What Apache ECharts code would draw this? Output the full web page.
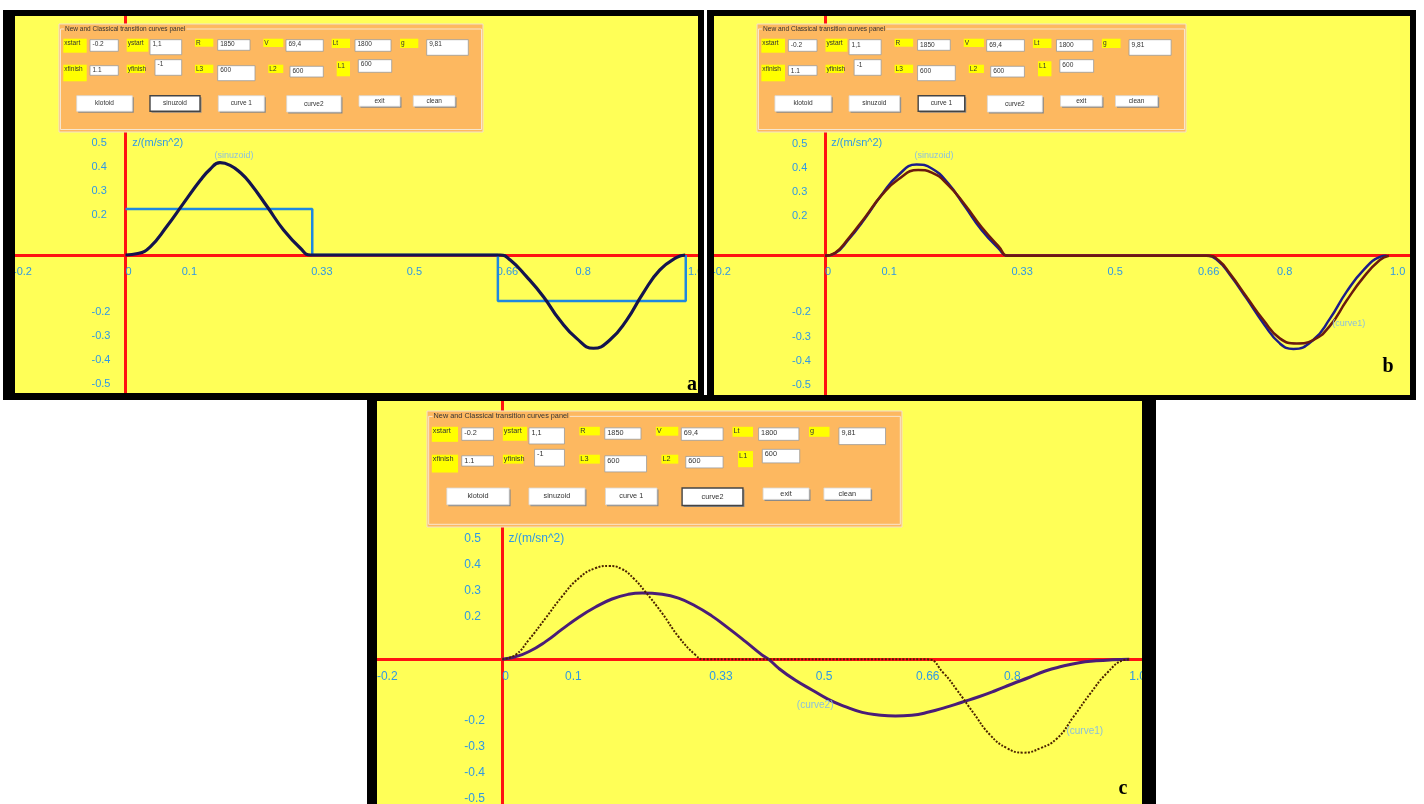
<!DOCTYPE html>
<html>
<head>
<meta charset="utf-8">
<title>transition curves</title>
<script src="https://cdn.jsdelivr.net/npm/echarts@6/dist/echarts.min.js"></script>
<style>
  html, body { margin: 0; padding: 0; background: #fff; }
  #chart { width: 1424px; height: 804px; }
</style>
</head>
<body>
<div id="chart"></div>
<script>
// tick labels shared by all three panels
const X_TICKS = [-0.2, 0, 0.1, 0.33, 0.5, 0.66, 0.8, 1.0];
const X_TICK_TEXT = ['-0.2', '0', '0.1', '0.33', '0.5', '0.66', '0.8', '1.0'];
const Y_TICKS = [0.5, 0.4, 0.3, 0.2, -0.2, -0.3, -0.4, -0.5];
const Y_TICK_TEXT = ['0.5', '0.4', '0.3', '0.2', '-0.2', '-0.3', '-0.4', '-0.5'];

// panel a : klotoid step + sinuzoid
const stepA = [[0, 0.191], [0.332, 0.191], [0.332, 0], [0.662, 0], [0.662, -0.191], [0.996, -0.191], [0.996, 0]];
const sinuzoidA = [
  [0, 0], [0.022, 0.006], [0.044, 0.034], [0.073, 0.117], [0.103, 0.214], [0.133, 0.31], [0.15, 0.355],
  [0.168, 0.383], [0.186, 0.372], [0.205, 0.34], [0.222, 0.297], [0.252, 0.2], [0.281, 0.104],
  [0.311, 0.028], [0.329, 0],
  [0.666, 0], [0.684, -0.021], [0.713, -0.09], [0.743, -0.173], [0.772, -0.27], [0.802, -0.346],
  [0.832, -0.387], [0.861, -0.353], [0.891, -0.27], [0.92, -0.159], [0.95, -0.062], [0.98, -0.01], [0.995, 0]
];

// panel b : sinuzoid + curve 1
const sinuzoidB = [
  [0, 0], [0.018, 0.01], [0.041, 0.065], [0.071, 0.155], [0.1, 0.252], [0.13, 0.335], [0.162, 0.378],
  [0.189, 0.362], [0.218, 0.3], [0.248, 0.203], [0.277, 0.107], [0.307, 0.031], [0.324, 0],
  [0.675, 0], [0.695, -0.02], [0.717, -0.08], [0.746, -0.177], [0.776, -0.281], [0.805, -0.364],
  [0.829, -0.387], [0.864, -0.35], [0.894, -0.26], [0.923, -0.15], [0.953, -0.06], [0.982, -0.005], [0.994, 0]
];
const curve1B = [
  [0, 0], [0.018, 0.012], [0.041, 0.07], [0.071, 0.16], [0.1, 0.25], [0.13, 0.317], [0.165, 0.356],
  [0.189, 0.345], [0.218, 0.293], [0.248, 0.21], [0.277, 0.119], [0.307, 0.04], [0.325, 0],
  [0.678, 0], [0.697, -0.02], [0.717, -0.075], [0.746, -0.17], [0.776, -0.267], [0.805, -0.343],
  [0.835, -0.364], [0.864, -0.35], [0.894, -0.29], [0.923, -0.187], [0.953, -0.09], [0.982, -0.018], [0.998, 0]
];

// panel c : curve 1 (dotted) + curve 2
const curve1C = [
  [0, 0], [0.021, 0.017], [0.042, 0.074], [0.069, 0.158], [0.095, 0.241], [0.122, 0.312], [0.148, 0.35],
  [0.17, 0.359], [0.19, 0.348], [0.21, 0.31], [0.228, 0.26], [0.255, 0.177], [0.281, 0.087], [0.308, 0.017], [0.321, 0],
  [0.677, 0], [0.704, -0.054], [0.725, -0.118], [0.752, -0.208], [0.778, -0.291], [0.805, -0.342],
  [0.831, -0.359], [0.858, -0.342], [0.885, -0.304], [0.911, -0.221], [0.938, -0.131], [0.964, -0.054],
  [0.991, -0.003], [1.0, 0]
];
const curve2C = [
  [0, 0], [0.021, 0.01], [0.042, 0.029], [0.069, 0.068], [0.095, 0.115], [0.122, 0.162], [0.148, 0.2],
  [0.175, 0.232], [0.201, 0.25], [0.223, 0.255], [0.255, 0.25], [0.281, 0.235], [0.308, 0.205],
  [0.334, 0.167], [0.361, 0.119], [0.388, 0.068], [0.414, 0.017], [0.425, 0], [0.441, -0.035],
  [0.467, -0.08], [0.494, -0.118], [0.52, -0.154], [0.547, -0.182], [0.574, -0.204], [0.6, -0.214],
  [0.627, -0.218], [0.653, -0.215], [0.68, -0.203], [0.707, -0.185], [0.733, -0.165], [0.76, -0.144],
  [0.786, -0.121], [0.813, -0.095], [0.84, -0.07], [0.866, -0.045], [0.893, -0.027], [0.92, -0.013],
  [0.947, -0.006], [0.973, -0.002], [1.0, 0]
];

// control panel widgets (text only, layout is below)
const PANEL_TITLE = 'New and Classical transition curves panel';
const FIELD_NAMES = ['xstart', 'ystart', 'R', 'V', 'Lt', 'g', 'xfinish', 'yfinish', 'L3', 'L2', 'L1'];
const FIELD_VALUES = ['-0.2', '1,1', '1850', '69,4', '1800', '9,81', '1.1', '-1', '600', '600', '600'];
const BUTTONS = ['klotoid', 'sinuzoid', 'curve 1', 'curve2', 'exit', 'clean'];

const YELLOW = '#FFFF57';
const ORANGE = '#FDB860';
const RED = '#FF1212';
const TICK_BLUE = '#2F98E6';
const NOTE_BLUE = '#8CC0DC';

// pixel geometry of each panel (x0,y0 = where the red axes cross)
const geo = [
  { x0: 125.5, y0: 255, sx: 562.5, sy: 241, right: 698, top: 16, bottom: 393, font: 11, ym: 34 },
  { x0: 825, y0: 255.7, sx: 565, sy: 241, right: 1410, top: 16, bottom: 395, font: 11, ym: 33 },
  { x0: 502.3, y0: 659.3, sx: 627, sy: 260, right: 1142, top: 401, bottom: 804, font: 12, ym: 38 }
];

const pick = (ticks, texts) => v => {
  const i = ticks.findIndex(t => Math.abs(t - v) < 1e-9);
  return i < 0 ? '' : texts[i];
};

const grids = [], xAxes = [], yAxes = [];
geo.forEach((g, i) => {
  const left = g.x0 - 0.2 * g.sx;
  grids.push({
    left: left, top: g.top, width: g.right - left, height: g.bottom - g.top,
    show: true, backgroundColor: YELLOW, borderWidth: 0, containLabel: false, outerBoundsMode: 'none'
  });
  // axes are moved onto the zero lines with a negative offset
  xAxes.push({
    type: 'value', gridIndex: i, position: 'bottom', offset: -(g.bottom - g.y0),
    min: -0.2, max: (g.right - g.x0) / g.sx,
    axisLine: { onZero: false, lineStyle: { color: RED, width: 3 } },
    axisTick: { show: false }, splitLine: { show: false },
    axisLabel: {
      customValues: X_TICKS, formatter: pick(X_TICKS, X_TICK_TEXT),
      align: 'left', margin: 11, color: TICK_BLUE, fontSize: g.font, fontFamily: 'Liberation Sans'
    }
  });
  yAxes.push({
    type: 'value', gridIndex: i, position: 'left', offset: -(g.x0 - left),
    min: (g.y0 - g.bottom) / g.sy, max: (g.y0 - g.top) / g.sy,
    axisLine: { onZero: false, lineStyle: { color: RED, width: 3 } },
    axisTick: { show: false }, splitLine: { show: false },
    axisLabel: {
      customValues: Y_TICKS, formatter: pick(Y_TICKS, Y_TICK_TEXT),
      align: 'left', verticalAlign: 'top', padding: [3, 0, 0, 0], margin: g.ym,
      color: TICK_BLUE, fontSize: g.font, fontFamily: 'Liberation Sans'
    }
  });
});

// small text notes placed in data coords
const note = (coord, text, size, color, align) => ({
  coord: coord,
  label: { formatter: text, fontSize: size, color: color, align: align || 'center' }
});
const notes = (items) => ({
  symbol: 'circle', symbolSize: 0, silent: true,
  label: { show: true, position: 'inside', verticalAlign: 'middle', fontFamily: 'Liberation Sans' },
  data: items
});

const line = (name, idx, data, color, width, extra) => Object.assign({
  name: name, type: 'line', xAxisIndex: idx, yAxisIndex: idx, data: data,
  showSymbol: false, smooth: 0.5,
  lineStyle: { color: color, width: width }, z: 3
}, extra || {});

const series = [
  line('klotoid', 0, stepA, '#1E88E0', 2.5, { smooth: false }),
  line('sinuzoid', 0, sinuzoidA, '#14144E', 3.2, {
    markPoint: notes([
      note([0.193, 0.414], '(sinuzoid)', 9, NOTE_BLUE),
      note([0.012, 0.466], 'z/(m/sn^2)', 11, TICK_BLUE, 'left')
    ])
  }),
  line('sinuzoid', 1, sinuzoidB, '#1C1C8A', 2.5, {
    markPoint: notes([
      note([0.193, 0.414], '(sinuzoid)', 9, NOTE_BLUE),
      note([0.927, -0.283], '(curve1)', 9, NOTE_BLUE),
      note([0.011, 0.469], 'z/(m/sn^2)', 11, TICK_BLUE, 'left')
    ])
  }),
  line('curve1', 1, curve1B, '#6A1A0E', 2.5),
  line('curve2', 2, curve2C, '#4A1C78', 3, {
    markPoint: notes([
      note([0.499, -0.178], '(curve2)', 10, NOTE_BLUE),
      note([0.929, -0.276], '(curve1)', 10, NOTE_BLUE),
      note([0.01, 0.463], 'z/(m/sn^2)', 12, TICK_BLUE, 'left')
    ])
  }),
  line('curve1', 2, curve1C, '#4A2200', 2, { lineStyle: { color: '#4A2200', width: 2, type: [2, 1.5] } })
];

// ---- graphic overlays: black frames, control panels, panel letters ----
const graphics = [];
const rect = (x, y, w, h, style, z) => graphics.push({ type: 'rect', shape: { x: x, y: y, width: w, height: h }, style: style, z: z || 100, silent: true });
const text = (x, y, s, style, z) => graphics.push({ type: 'text', style: Object.assign({ x: x, y: y, text: s }, style), z: z || 101, silent: true });

const frames = [
  { o: [3, 10, 704, 400], i: [15, 16, 698, 393] },
  { o: [707, 10, 1416, 400], i: [714, 16, 1410, 395] },
  { o: [367, 395, 1156, 804], i: [377, 401, 1142, 804] }
];
frames.forEach(f => {
  const [ox1, oy1, ox2, oy2] = f.o, [ix1, iy1, ix2, iy2] = f.i;
  const blk = { fill: '#000' };
  rect(ox1, oy1, ox2 - ox1, iy1 - oy1, blk);
  if (oy2 > iy2) rect(ox1, iy2, ox2 - ox1, oy2 - iy2, blk);
  rect(ox1, oy1, ix1 - ox1, oy2 - oy1, blk);
  rect(ix2, oy1, ox2 - ix2, oy2 - oy1, blk);
});

// layout of the control panel, in a 424 x 108 box
const labelBoxes = [
  [4.3, 14.7, 23.4, 14], [67.7, 14.7, 21.6, 13], [136, 14.7, 18.3, 8], [204.3, 14.7, 20, 8.3], [272.7, 14.7, 18.3, 9.3], [341, 14.7, 18.3, 9.3],
  [4.3, 40.7, 23.4, 16.6], [67.7, 40.7, 18.3, 8.3], [136, 40.7, 18.3, 8.3], [209.3, 40.7, 15, 8.3], [277.7, 37.3, 13.3, 15]
];
const inputBoxes = [
  [31, 15.7, 28.3, 11.6], [91, 15.7, 31.7, 15], [158.7, 15.7, 32.3, 10.6], [227, 15.7, 37.3, 11.6], [296, 15.7, 36, 11.6], [367.7, 15.7, 41.6, 15.6],
  [31, 41.7, 28.3, 9.6], [96, 35.7, 26.7, 15.6], [158.7, 41.7, 37.3, 15], [231, 42.3, 33.3, 10.7], [299.3, 35.7, 33.4, 12.6]
];
const buttonBoxes = [
  [17.7, 71.7, 55.6, 15.6], [91, 71.7, 50, 15.6], [159.3, 71.7, 46, 15.6], [227.7, 71.7, 54.3, 16.3], [300, 71.7, 41, 10.6], [354.3, 71.7, 41.7, 10.6]
];

function controlPanel(ox, oy, w, h, pressed) {
  const kx = w / 424, ky = h / 108;
  const fs = 6.5 * kx;
  const font = fs.toFixed(1) + 'px "Liberation Sans"';
  const B = b => [ox + b[0] * kx, oy + b[1] * ky, b[2] * kx, b[3] * ky];
  rect(ox, oy, w, h, { fill: ORANGE, stroke: '#F3E2CC', lineWidth: 1 });
  const gb = B([1.5, 5, 421, 100.5]);
  rect(gb[0], gb[1], gb[2], gb[3], { fill: 'none', stroke: '#F8E6CE', lineWidth: 1 });
  text(ox + 5 * kx, oy + 5 * ky, PANEL_TITLE, { font: font, fill: '#333', backgroundColor: ORANGE, padding: [0, 1],
    align: 'left', verticalAlign: 'middle', textAlign: 'left', textVerticalAlign: 'middle' });
  labelBoxes.forEach((b, i) => {
    const r = B(b);
    rect(r[0], r[1], r[2], r[3], { fill: '#FFFF00' });
    text(r[0] + 1, r[1] + 1, FIELD_NAMES[i], { font: font, fill: '#333', align: 'left', verticalAlign: 'top', textAlign: 'left', textVerticalAlign: 'top' });
  });
  inputBoxes.forEach((b, i) => {
    const r = B(b);
    rect(r[0], r[1], r[2], r[3], { fill: '#FFFFFF', stroke: '#9A9A9A', lineWidth: 0.8 });
    text(r[0] + 2.5, r[1] + 1.5, FIELD_VALUES[i], { font: font, fill: '#333', align: 'left', verticalAlign: 'top', textAlign: 'left', textVerticalAlign: 'top' });
  });
  buttonBoxes.forEach((b, i) => {
    const r = B(b);
    rect(r[0] + 1.5, r[1] + 1.5, r[2], r[3], { fill: '#8A8A8A' });
    const on = BUTTONS[i] === pressed;
    rect(r[0], r[1], r[2], r[3], { fill: '#FFFFFF', stroke: on ? '#444' : '#D8D8D8', lineWidth: on ? 1.4 : 0.8 });
    text(r[0] + r[2] / 2, r[1] + r[3] / 2, BUTTONS[i], { font: font, fill: '#333', align: 'center', verticalAlign: 'middle', textAlign: 'center', textVerticalAlign: 'middle' });
  });
}
controlPanel(59, 24, 424, 108, 'sinuzoid');
controlPanel(757, 24, 429, 108, 'curve 1');
controlPanel(427, 411, 475, 116, 'curve2');

const letter = { font: 'bold 20px "Liberation Serif"', fill: '#000', align: 'center', verticalAlign: 'middle', textAlign: 'center', textVerticalAlign: 'middle' };
text(692, 385, 'a', letter);
text(1388, 367, 'b', letter);
text(1123, 789, 'c', letter);

const chart = echarts.init(document.getElementById('chart'), null, { renderer: 'canvas' });
chart.setOption({
  backgroundColor: '#FFFFFF',
  animation: false,
  grid: grids,
  xAxis: xAxes,
  yAxis: yAxes,
  series: series,
  graphic: { elements: graphics }
});
</script>
</body>
</html>
